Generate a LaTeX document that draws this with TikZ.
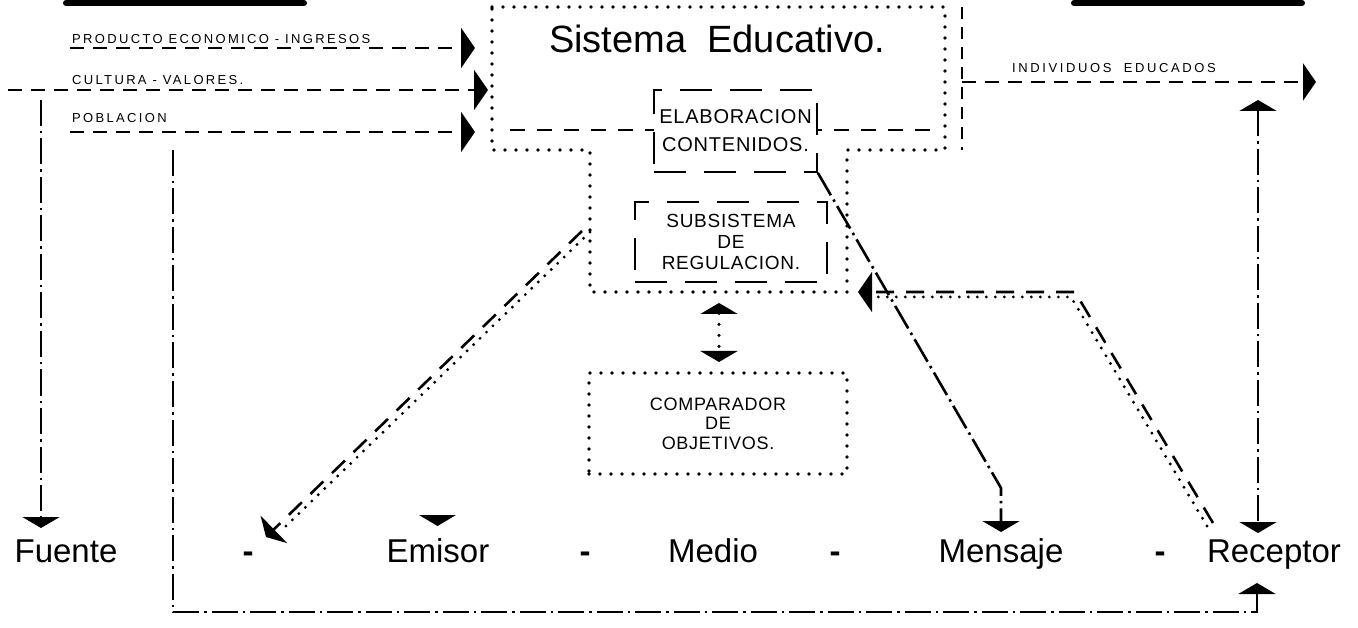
\documentclass[tikz,border=0pt]{standalone}
\usepackage{fontspec}
\setmainfont{Liberation Sans}
\newfontfamily\lblfont[LetterSpace=18]{Liberation Sans}
\newfontfamily\boxfont[LetterSpace=4]{Liberation Sans}
\usetikzlibrary{arrows.meta}
\tikzset{
  bar/.style={line width=6pt, line cap=round},
  inarrow/.style={line width=2.8pt, dash pattern=on 14pt off 9pt, -{Triangle[length=14pt,width=40pt]}},
  dotline/.style={line width=3.6pt, line cap=round, dash pattern=on 0pt off 11pt},
  thindash/.style={line width=1.8pt, dash pattern=on 15pt off 12pt},
  boxdash/.style={draw, line width=1.6pt, dash pattern=on 32pt off 18pt, fill=white, inner sep=0pt},
  dashdot/.style={line width=2.6pt, dash pattern=on 26pt off 5pt on 2.5pt off 5pt},
  dashtwo/.style={line width=2.6pt, dash pattern=on 18pt off 12pt},
  dotcomp/.style={line width=3.2pt, line cap=round, dash pattern=on 0pt off 9pt},
  vtip/.style={-{Triangle[length=11pt,width=37pt]}},
  vtips/.style={{Triangle[length=11pt,width=37pt]}-{Triangle[length=11pt,width=37pt]}},
  htip/.style={-{Triangle[length=14pt,width=40pt]}},
  lbl/.style={font=\lblfont\fontsize{13}{15}\selectfont, inner sep=0pt, anchor=west},
  word/.style={font=\fontsize{33}{40}\selectfont, inner sep=0pt, anchor=base},
  hyph/.style={font=\bfseries\fontsize{33}{40}\selectfont, inner sep=0pt, anchor=base},
}
\begin{document}
\begin{tikzpicture}[x=1pt,y=-1pt]
\useasboundingbox (0,0) rectangle (1358,628);

% top bars
\coordinate (barLa) at (66,3); \coordinate (barLb) at (304,3);
\coordinate (barRa) at (1074,3); \coordinate (barRb) at (1302,3);
\draw[bar] (barLa) -- (barLb);
\draw[bar] (barRa) -- (barRb);

% system outline
\draw[dotline] (492,7) -- (945,7) -- (945,150) -- (847,150) -- (847,292) -- (590,292) -- (590,150) -- (492,150) -- cycle;
\node[font=\fontsize{38}{44}\selectfont, inner sep=0pt] (sis) at (717,39) {Sistema\ \ Educativo.};
\draw[thindash] (510,130) -- (938,130);

\node[boxdash, minimum width=163pt, minimum height=82pt, align=center,
      font=\boxfont\fontsize{20}{28}\selectfont] (elab) at (735.5,131) {ELABORACION\\CONTENIDOS.};
\node[boxdash, minimum width=192pt, minimum height=80pt, align=center,
      font=\boxfont\fontsize{19}{21}\selectfont] (subs) at (731,242) {SUBSISTEMA\\DE\\REGULACION.};
\node[draw, dotline, minimum width=258pt, minimum height=101pt, align=center, inner sep=0pt,
      font=\boxfont\fontsize{18}{19.5}\selectfont] (comp) at (718,423.5) {COMPARADOR\\DE\\OBJETIVOS.};

% regulation <-> comparator
\coordinate (regA) at (719,303); \coordinate (regB) at (719,362);
\draw[dotline, vtips] (regA) -- (regB);

% inputs
\coordinate (in1) at (70,48); \coordinate (in1t) at (475,48);
\coordinate (in2) at (8,90); \coordinate (in2t) at (488,90);
\coordinate (in3) at (70,132); \coordinate (in3t) at (475,132);
\draw[inarrow] (in1) -- (in1t);
\draw[inarrow] (in2) -- (in2t);
\draw[inarrow] (in3) -- (in3t);
\node[lbl] (l1) at (72,39.5) {PRODUCTO ECONOMICO - INGRESOS};
\node[lbl] (l2) at (72,80) {CULTURA - VALORES.};
\node[lbl] (l3) at (72,118.5) {POBLACION};

% output
\coordinate (outA) at (962,7); \coordinate (outB) at (962,150);
\draw[line width=2.6pt, dash pattern=on 12pt off 8pt] (outA) -- (outB);
\coordinate (ind) at (962,82); \coordinate (indt) at (1316,82);
\draw[inarrow, -{Triangle[length=13pt,width=37pt]}] (ind) -- (indt);
\node[lbl, font=\lblfont\fontsize{13}{15}\selectfont\addfontfeature{LetterSpace=20}] (l4) at (1012,68) {INDIVIDUOS\ \ EDUCADOS};

% bottom words
\node[word] (fuente) at (66,562) {Fuente};
\node[hyph] (d1) at (248,562) {-};
\node[word] (emisor) at (438,562) {Emisor};
\node[hyph] (d2) at (585,562) {-};
\node[word] (medio) at (713,562) {Medio};
\node[hyph] (d3) at (835,562) {-};
\node[word] (mensaje) at (1001,562) {Mensaje};
\node[hyph] (d4) at (1160,562) {-};
\node[word] (receptor) at (1274,562) {Receptor};

% Fuente
\coordinate (fuA) at (41,100); \coordinate (fuB) at (41,528);
\draw[dashdot, vtip] (fuA) -- (fuB);

% Emisor arrowhead
\fill (419,515) -- (456,515) -- (437.5,526) -- cycle;

% diagonal to Emisor
\coordinate (emA) at (582,231); \coordinate (emB) at (266,537);
\draw[dashtwo, -{Triangle[length=11pt,width=38pt]}] (emA) -- (emB);
\coordinate (emC) at (590,232); \coordinate (emD) at (285,527);
\draw[dotcomp] (emC) -- (emD);

% Mensaje
\coordinate (meK) at (1001,488); \coordinate (meT) at (1001,532);
\draw[dashdot, vtip] (elab.south east) -- (meK) -- (meT);

% Receptor vertical
\coordinate (reA) at (1258,100); \coordinate (reB) at (1258,533);
\draw[dashdot, vtips] (reA) -- (reB);

% feedback Receptor -> regulation
\coordinate (fbA) at (1213,523); \coordinate (fbK) at (1075,292); \coordinate (fbT) at (858,292);
\draw[dashtwo, htip] (fbA) -- (fbK) -- (fbT);
\coordinate (fbA2) at (1207,526); \coordinate (fbK2) at (1071,297); \coordinate (fbT2) at (874,297);
\draw[dotcomp] (fbA2) -- (fbK2) -- (fbT2);

% bottom loop
\coordinate (loA) at (173,150); \coordinate (loB) at (173,612);
\coordinate (loC) at (1257,612); \coordinate (loT) at (1257,583);
\draw[dashdot, vtip] (loA) -- (loB) -- (loC) -- (loT);
\end{tikzpicture}
\end{document}
